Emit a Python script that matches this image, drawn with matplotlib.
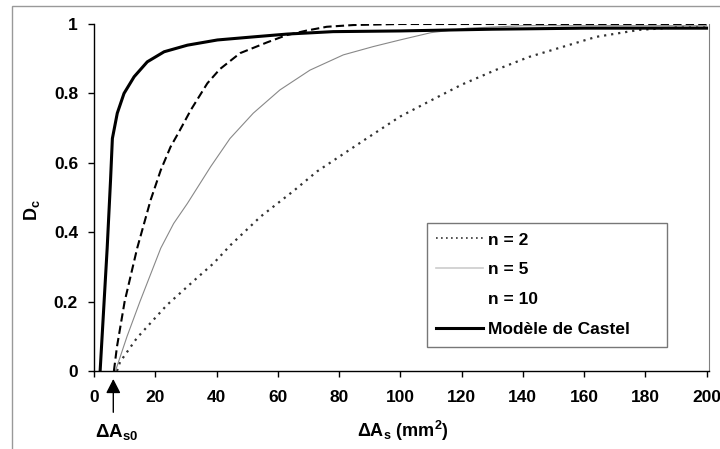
import numpy as np
import matplotlib.pyplot as plt
from matplotlib.lines import Line2D
from matplotlib.patches import Rectangle

plt.rcParams['font.family'] = ['Liberation Sans', 'DejaVu Sans']
plt.rcParams['mathtext.fontset'] = 'custom'
plt.rcParams['mathtext.rm'] = 'Liberation Sans:bold'
plt.rcParams['mathtext.it'] = 'Liberation Sans:bold'
plt.rcParams['mathtext.bf'] = 'Liberation Sans:bold'

# courbes
x_n2 = [7.5, 8.5, 14, 23.8, 33.6, 39, 44.6, 54.4, 65.3, 72.8, 89, 99.9, 109, 120, 131, 142, 153, 164, 178, 190, 200]
y_n2 = [0, 0.026, 0.095, 0.19, 0.268, 0.31, 0.363, 0.445, 0.52, 0.575, 0.67, 0.733, 0.775, 0.825, 0.867, 0.905, 0.934, 0.963, 0.983, 0.99, 0.99]

x_n5 = [7, 10.8, 15, 21.8, 26, 30.5, 38.1, 44.4, 52, 60.7, 70.5, 81.4, 91.2, 99.9, 110, 122, 140, 200]
y_n5 = [0, 0.1, 0.2, 0.354, 0.425, 0.483, 0.589, 0.67, 0.743, 0.81, 0.867, 0.911, 0.935, 0.954, 0.975, 0.988, 0.995, 0.995]

x_n10 = [6.5, 7.5, 10, 14.1, 18.5, 21.8, 25, 27.8, 31.6, 37, 41.1, 47.7, 56.5, 62.9, 69.4, 76, 84.7, 100, 150, 200]
y_n10 = [0, 0.07, 0.2, 0.354, 0.493, 0.579, 0.646, 0.69, 0.752, 0.829, 0.87, 0.916, 0.947, 0.968, 0.981, 0.992, 0.997, 1.0, 1.0, 1.0]

x_castel = [2, 3.3, 4.3, 5.4, 6.0, 7.6, 9.8, 13.1, 17.4, 22.9, 30.5, 40.3, 52.2, 63.1, 78.1, 99.9, 130, 160, 200]
y_castel = [0, 0.2, 0.354, 0.55, 0.67, 0.743, 0.80, 0.848, 0.891, 0.92, 0.939, 0.954, 0.963, 0.971, 0.978, 0.98, 0.985, 0.988, 0.988]

dAs0 = 6.3

fig = plt.figure(figsize=(7.2, 4.49), dpi=100)
ax = fig.add_axes([94 / 720, 1 - 371 / 449, 615 / 720, 347 / 449])

ax.plot(x_n2, y_n2, color='#333333', lw=1.6, linestyle=(0, (1, 2.2)))
ax.plot(x_n5, y_n5, color='#888888', lw=0.8)
ax.plot(x_n10, y_n10, color='black', lw=1.5, linestyle=(0, (4, 2)))
ax.plot(x_castel, y_castel, color='black', lw=2.2)

ax.set_xlim(0, 200.8)
ax.set_ylim(0, 1)
ax.set_xticks(np.arange(0, 201, 20))
ax.set_yticks([0, 0.2, 0.4, 0.6, 0.8, 1])
ax.set_yticklabels(['0', '0.2', '0.4', '0.6', '0.8', '1'])
ax.tick_params(direction='out', length=4.5, width=1, labelsize=12.5)
ax.tick_params(axis='y', pad=7)
ax.tick_params(axis='x', pad=9)
for lab in ax.get_xticklabels() + ax.get_yticklabels():
    lab.set_fontweight('bold')

ax.spines['top'].set_visible(False)
ax.spines['right'].set_color('#808080')
ax.spines['left'].set_linewidth(1)
ax.spines['bottom'].set_linewidth(1)

# flèche ΔAs0
ax.annotate('', xy=(dAs0, -0.015), xytext=(dAs0, -0.127),
            arrowprops=dict(arrowstyle='-|>,head_length=0.43,head_width=0.22',
                            color='black', lw=1, mutation_scale=20),
            annotation_clip=False)
fig.text(117 / 720, 1 - 432 / 449, r'$\mathrm{\Delta A_{s0}}$', fontsize=13.5,
         ha='center', va='center')

fig.text(403 / 720, 1 - 431 / 449, r'$\mathrm{\Delta A_s\ (mm^2)}$', fontsize=13,
         ha='center', va='center')
fig.text(32 / 720, 1 - 210 / 449, r'$\mathrm{D_c}$', fontsize=13,
         ha='center', va='center', rotation=90)

handles = [
    Line2D([], [], color='#333333', lw=1.2, linestyle=(0, (1, 2))),
    Line2D([], [], color='#cccccc', lw=1.2),
    Line2D([], [], linestyle='none'),
    Line2D([], [], color='black', lw=2.2),
]
labels = ['n = 2', 'n = 5', 'n = 10', 'Modèle de Castel']
leg = ax.legend(handles, labels, loc='upper left',
                bbox_to_anchor=(0.541, 0.427, 0.391, 0.0), mode='expand',
                borderaxespad=0, fancybox=False, frameon=True,
                handlelength=2.7, handletextpad=0.3, labelspacing=0.85,
                borderpad=0.55, prop={'weight': 'bold', 'size': 12.5})
leg.get_frame().set_edgecolor('#555555')
leg.get_frame().set_linewidth(1)

# cadre extérieur
fig.add_artist(Rectangle((12 / 720, -0.1), 1.2, 1.1 - 6 / 449,
                         transform=fig.transFigure, fill=False,
                         edgecolor='#999999', lw=1))

fig.savefig('out.png', dpi=100)
